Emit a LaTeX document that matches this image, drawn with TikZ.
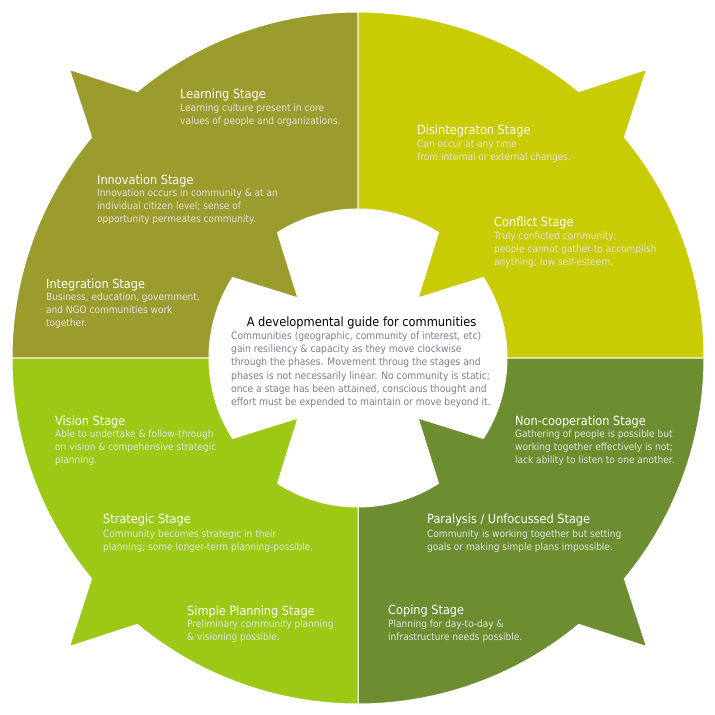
\documentclass[tikz,border=0pt]{standalone}
\usepackage{fontspec}
\setmainfont{DejaVu Sans}[FakeStretch=0.9]
\usetikzlibrary{calc}
\definecolor{qTL}{HTML}{9C9B2D}
\definecolor{qTR}{HTML}{C9CB04}
\definecolor{qBR}{HTML}{6C8E30}
\definecolor{qBL}{HTML}{9CC916}
\definecolor{bodytxt}{HTML}{E2E2DC}
\definecolor{ctxt}{HTML}{7B7D8C}
\tikzset{
  head/.style={anchor=base west, inner sep=0pt, text=white, font=\fontsize{12.6}{14}\selectfont},
  bodytext/.style={anchor=base west, inner sep=0pt, text=bodytxt, align=left, font=\fontsize{10}{13}\selectfont},
  ctitle/.style={anchor=base, inner sep=0pt, text=black, font=\fontsize{12.7}{14}\selectfont},
  cbody/.style={anchor=base west, inner sep=0pt, text=ctxt, align=left, font=\fontsize{10.2}{13.2}\selectfont},
  quad/.style={draw=white, line width=1pt, line join=miter}
}
\begin{document}
\begin{tikzpicture}[x=1pt,y=-1pt]
\useasboundingbox (0,0) rectangle (715,715);
\coordinate (C) at (358,358);
\def\R{346pt}
\def\r{149pt}
\foreach \s/\col in {90/qTL,0/qTR,270/qBR,180/qBL}{
  \pgfmathsetmacro\m{\s+45}
  \pgfmathsetmacro\e{\s+90}
  \pgfmathsetmacro\oa{\m-5.35}
  \pgfmathsetmacro\ob{\m+5.35}
  \pgfmathsetmacro\ia{\m-12.3}
  \pgfmathsetmacro\ib{\m+12.3}
  \filldraw[quad, fill=\col]
    ($(C)+(\s:\R)$) arc[start angle=\s, end angle=\oa, radius=\R]
    -- ($(C)+(\m:408pt)$)
    -- ($(C)+(\ob:\R)$) arc[start angle=\ob, end angle=\e, radius=\R]
    -- ($(C)+(\e:\r)$) arc[start angle=\e, end angle=\ib, radius=\r]
    -- ($(C)+(\m:85pt)$)
    -- ($(C)+(\ia:\r)$) arc[start angle=\ia, end angle=\s, radius=\r]
    -- cycle;
}
% centre text
\node[ctitle] (title) at (361.5,326) {A developmental guide for communities};
\node[cbody] (cbody) at (231,405.5) {Communities (geographic, community of interest, etc)\\gain resiliency \& capacity as they move clockwise\\through the phases. Movement throug the stages and\\phases is not necessarily linear. No community is static;\\once a stage has been attained, conscious thought and\\effort must be expended to maintain or move beyond it.};
% top left
\node[head] (h1) at (180,98) {Learning Stage};
\node[bodytext] (b1) at (180,124.5) {Learning culture present in core\\values of people and organizations.};
\node[head] (h2) at (97,184) {Innovation Stage};
\node[bodytext] (b2) at (97,222.5) {Innovation occurs in community \& at an\\individual citizen level; sense of\\opportunity permeates community.};
\node[head] (h3) at (46,288) {Integration Stage};
\node[bodytext] (b3) at (46,326.5) {Business, education, government,\\and NGO communities work\\together.};
% top right
\node[head] (h4) at (417,134) {Disintegraton Stage};
\node[bodytext] (b4) at (417,160) {Can occur at any time\\from internal or external changes.};
\node[head] (h5) at (494,226) {Conflict Stage};
\node[bodytext] (b5) at (494,265.5) {Truly conficted community;\\people cannot gather to accomplish\\anything; low self-esteem.};
% bottom right
\node[head] (h6) at (515,425) {Non-cooperation Stage};
\node[bodytext] (b6) at (515,463.5) {Gathering of people is possible but\\working together effectively is not;\\lack ability to listen to one another.};
\node[head] (h7) at (427,523) {Paralysis / Unfocussed Stage};
\node[bodytext] (b7) at (427,550.5) {Community is working together but setting\\goals or making simple plans impossible.};
\node[head] (h8) at (388,614) {Coping Stage};
\node[bodytext] (b8) at (388,640.5) {Planning for day-to-day \&\\infrastructure needs possible.};
% bottom left
\node[head] (h9) at (55,425) {Vision Stage};
\node[bodytext] (b9) at (55,463.5) {Able to undertake \& follow-through\\on vision \& compehensive strategic\\planning.};
\node[head] (h10) at (103,523) {Strategic Stage};
\node[bodytext] (b10) at (103,550.5) {Community becomes strategic in their\\planning; some longer-term planning-possible.};
\node[head] (h11) at (187,615) {Simple Planning Stage};
\node[bodytext] (b11) at (187,640.5) {Preliminary community planning\\\& visioning possible.};
\end{tikzpicture}
\end{document}
